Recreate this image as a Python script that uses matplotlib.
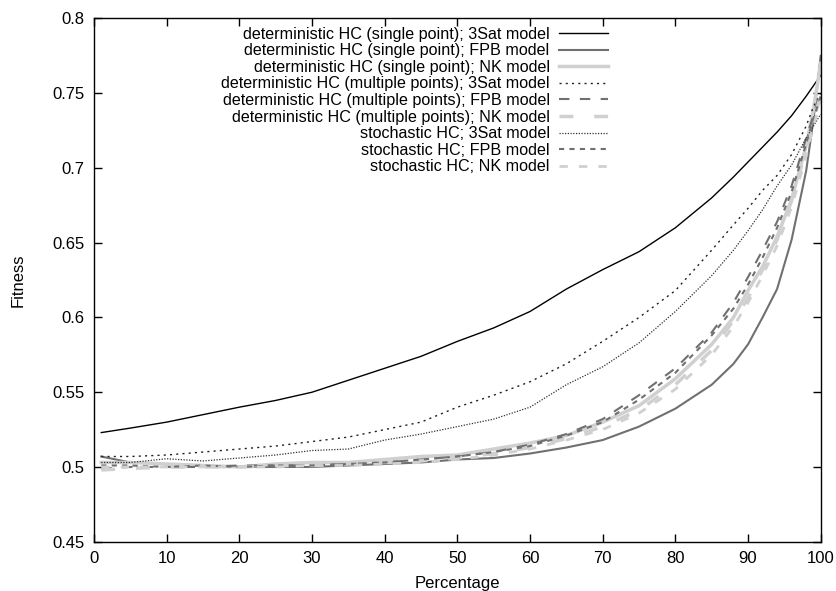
import matplotlib
matplotlib.use("Agg")
import matplotlib.pyplot as plt
from matplotlib.ticker import FuncFormatter, MultipleLocator

plt.rcParams['font.family'] = ['Liberation Sans', 'DejaVu Sans']

# percentage of the run
pct = [1, 5, 10, 15, 20, 25, 30, 35, 40, 45, 50, 55, 60, 65, 70, 75, 80, 85,
       88, 90, 92, 94, 96, 98, 99, 100]

det_single_3sat = [0.523, 0.526, 0.530, 0.535, 0.540, 0.5445, 0.550, 0.558, 0.566,
                   0.574, 0.584, 0.593, 0.604, 0.619, 0.632, 0.644, 0.660, 0.680,
                   0.694, 0.704, 0.714, 0.724, 0.735, 0.748, 0.755, 0.762]
det_single_fpb = [0.507, 0.503, 0.502, 0.501, 0.500, 0.500, 0.500, 0.501, 0.502,
                  0.503, 0.505, 0.506, 0.509, 0.513, 0.518, 0.527, 0.539, 0.555,
                  0.569, 0.582, 0.600, 0.619, 0.652, 0.698, 0.732, 0.775]
det_single_nk = [0.503, 0.503, 0.502, 0.501, 0.500, 0.502, 0.503, 0.503, 0.505,
                 0.507, 0.508, 0.512, 0.516, 0.521, 0.530, 0.541, 0.559, 0.582,
                 0.600, 0.618, 0.634, 0.654, 0.679, 0.715, 0.739, 0.770]
det_multi_3sat = [0.507, 0.507, 0.508, 0.510, 0.512, 0.514, 0.517, 0.520, 0.525,
                  0.530, 0.540, 0.548, 0.557, 0.569, 0.584, 0.600, 0.618, 0.645,
                  0.662, 0.673, 0.685, 0.695, 0.709, 0.728, 0.741, 0.750]
det_multi_fpb = [0.499, 0.500, 0.500, 0.500, 0.501, 0.501, 0.501, 0.502, 0.503,
                 0.505, 0.507, 0.510, 0.515, 0.522, 0.532, 0.548, 0.566, 0.590,
                 0.610, 0.627, 0.645, 0.664, 0.688, 0.720, 0.735, 0.752]
det_multi_nk = [0.498, 0.499, 0.500, 0.500, 0.500, 0.501, 0.501, 0.502, 0.503,
                0.504, 0.506, 0.509, 0.513, 0.519, 0.527, 0.538, 0.555, 0.578,
                0.598, 0.613, 0.632, 0.652, 0.678, 0.712, 0.732, 0.748]
stoch_3sat = [0.503, 0.503, 0.5055, 0.504, 0.506, 0.508, 0.511, 0.512, 0.518,
              0.522, 0.527, 0.532, 0.540, 0.555, 0.567, 0.583, 0.604, 0.628,
              0.645, 0.658, 0.672, 0.688, 0.702, 0.720, 0.728, 0.736]
stoch_fpb = [0.501, 0.501, 0.500, 0.501, 0.500, 0.501, 0.501, 0.502, 0.503,
             0.505, 0.507, 0.510, 0.514, 0.521, 0.530, 0.545, 0.563, 0.588,
             0.606, 0.622, 0.640, 0.660, 0.684, 0.716, 0.733, 0.748]
stoch_nk = [0.500, 0.500, 0.500, 0.500, 0.500, 0.500, 0.501, 0.501, 0.502,
            0.503, 0.505, 0.508, 0.512, 0.518, 0.525, 0.536, 0.552, 0.575,
            0.594, 0.610, 0.628, 0.648, 0.674, 0.708, 0.728, 0.745]

labels = ['deterministic HC (single point); 3Sat model',
          'deterministic HC (single point); FPB model',
          'deterministic HC (single point); NK model',
          'deterministic HC (multiple points); 3Sat model',
          'deterministic HC (multiple points); FPB model',
          'deterministic HC (multiple points); NK model',
          'stochastic HC; 3Sat model',
          'stochastic HC; FPB model',
          'stochastic HC; NK model']

dark = '#000000'
mid = '#707070'
light = '#d0d0d0'

fig = plt.figure(figsize=(8.37, 5.91), dpi=100)
ax = fig.add_axes([0.1123, 0.0834, 0.8682, 0.8853])

ax.plot(pct, det_single_3sat, color=dark, lw=1.0, label=labels[0])
ax.plot(pct, det_single_fpb, color=mid, lw=1.5, label=labels[1])
ax.plot(pct, det_single_nk, color=light, lw=2.5, label=labels[2])
ax.plot(pct, det_multi_3sat, color='#202020', lw=1.0, dashes=(1.5, 3), label=labels[3])
ax.plot(pct, det_multi_fpb, color=mid, lw=1.5, dashes=(5, 5), label=labels[4])
ax.plot(pct, det_multi_nk, color=light, lw=2.5, dashes=(4, 6), label=labels[5])
ax.plot(pct, stoch_3sat, color='#303030', lw=0.9, dashes=(1, 1.2), label=labels[6])
ax.plot(pct, stoch_fpb, color=mid, lw=1.5, dashes=(2.5, 2.5), label=labels[7])
ax.plot(pct, stoch_nk, color=light, lw=2.0, dashes=(3, 4), label=labels[8])

ax.set_xlim(0, 100)
ax.set_ylim(0.45, 0.8)
ax.xaxis.set_major_locator(MultipleLocator(10))
ax.yaxis.set_major_locator(MultipleLocator(0.05))
ax.yaxis.set_major_formatter(FuncFormatter(lambda v, p: '%g' % round(v, 3)))
ax.tick_params(direction='in', top=True, right=True, length=6, width=1,
               labelsize=12, pad=7)
for s in ax.spines.values():
    s.set_linewidth(1.0)

ax.set_xlabel('Percentage', fontsize=12, labelpad=7)
ax.set_ylabel('Fitness', fontsize=12, labelpad=19)

leg = ax.legend(loc='upper right', bbox_to_anchor=(0.718, 1.0), frameon=False,
                markerfirst=False, fontsize=11.6, borderpad=0, labelspacing=0.1,
                handlelength=3.0, handletextpad=0.6)

fig.savefig('out.png', dpi=100)
